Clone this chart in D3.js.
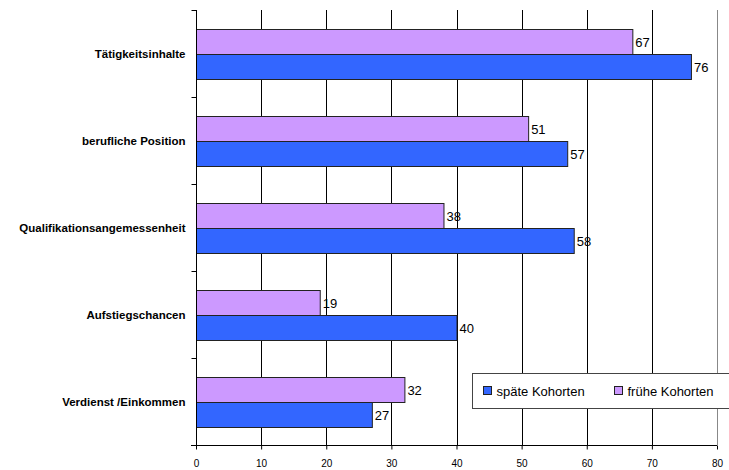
<!DOCTYPE html>
<html>
<head>
<meta charset="utf-8">
<title>Zufriedenheit - Kohorten</title>
<style>
  body { margin: 0; background: #fff; }
  text { font-family: Arial, "Liberation Sans", sans-serif; }
</style>
</head>
<body>
<script src="https://cdn.jsdelivr.net/npm/d3@7/dist/d3.min.js"></script>
<script>
    var w = 729, h = 470;
    var categories = ['Tätigkeitsinhalte', 'berufliche Position', 'Qualifikationsangemessenheit', 'Aufstiegschancen', 'Verdienst /Einkommen'];
    var frueh = [67, 51, 38, 19, 32];   // frühe Kohorten
    var spaet = [76, 57, 58, 40, 27];   // späte Kohorten
    var seriesNames = ['späte Kohorten', 'frühe Kohorten'];
    var xTicks = [0, 10, 20, 30, 40, 50, 60, 70, 80];

    var colors = { frueh: '#CC99FF', spaet: '#3366FF' };
    // plot area (note: "top" is reserved on window, so use other names)
    var pLeft = 196, pRight = 717, pTop = 10, pBottom = 445;

    var svg = d3.select('body').append('svg')
        .attr('width', w)
        .attr('height', h);

    var x = d3.scaleLinear().domain([0, 80]).range([pLeft, pRight]);
    var y = d3.scaleBand().domain(categories).range([pTop, pBottom]);
    var inner = d3.scaleBand().domain(['frueh', 'spaet'])
        .range([19, y.bandwidth() - 18]);

    // gridlines
    svg.append('g').selectAll('line')
        .data(xTicks.slice(1))
        .enter().append('line')
        .attr('x1', function(d){ return Math.round(x(d)) + 0.5; })
        .attr('x2', function(d){ return Math.round(x(d)) + 0.5; })
        .attr('y1', pTop)
        .attr('y2', pBottom)
        .attr('stroke', function(d){ return d === 80 ? '#888' : '#000'; })
        .attr('stroke-width', 1);

    var rows = [];
    categories.forEach(function(c, i){
        rows.push({cat: c, key: 'frueh', v: frueh[i]});
        rows.push({cat: c, key: 'spaet', v: spaet[i]});
    });

    svg.append('g').selectAll('rect')
        .data(rows)
        .enter().append('rect')
        .attr('x', x(0) + 0.5)
        .attr('y', function(d){ return Math.round(y(d.cat) + inner(d.key)) + 0.5; })
        .attr('width', function(d){ return x(d.v) - x(0); })
        .attr('height', Math.round(inner.bandwidth()))
        .attr('fill', function(d){ return colors[d.key]; })
        .attr('stroke', '#222')
        .attr('stroke-width', 1);

    svg.append('g').selectAll('text')
        .data(rows)
        .enter().append('text')
        .attr('x', function(d){ return x(d.v) + 3; })
        .attr('y', function(d){ return y(d.cat) + inner(d.key) + inner.bandwidth() / 2 + 5; })
        .attr('font-size', 13)
        .attr('fill', '#000')
        .text(function(d){ return d.v; });

    // left axis: ticks at band boundaries
    var yAxis = svg.append('g').attr('transform', 'translate(' + (pLeft + 0.5) + ',0)');
    yAxis.append('line').attr('y1', pTop).attr('y2', pBottom + 4).attr('stroke', '#000');
    var bounds = categories.map(function(c){ return y(c); }).concat([pBottom]);
    yAxis.selectAll('.tk').data(bounds).enter().append('line')
        .attr('x1', -5).attr('x2', 0)
        .attr('y1', function(d){ return Math.round(d) + 0.5; })
        .attr('y2', function(d){ return Math.round(d) + 0.5; })
        .attr('stroke', '#000');
    yAxis.selectAll('.lbl').data(categories).enter().append('text')
        .attr('x', -11)
        .attr('y', function(d){ return y(d) + y.bandwidth() / 2 + 4; })
        .attr('text-anchor', 'end')
        .attr('font-size', 11.5)
        .attr('font-weight', 'bold')
        .text(function(d){ return d; });

    // bottom axis
    var xAxis = d3.axisBottom(x).tickValues(xTicks).tickSize(4).tickPadding(10);
    var gx = svg.append('g').attr('transform', 'translate(0,' + (pBottom + 0.5) + ')').call(xAxis);
    gx.select('.domain').attr('d', 'M' + (pLeft - 5) + ',0H' + pRight).attr('stroke', '#000');
    gx.selectAll('.tick line').attr('stroke', '#000');
    gx.selectAll('text').attr('font-size', 10).attr('font-family', 'Arial, "Liberation Sans", sans-serif').attr('fill', '#000');

    // legend
    var lg = svg.append('g').attr('transform', 'translate(472.5,373.5)');
    lg.append('rect').attr('width', 262).attr('height', 35)
        .attr('fill', '#fff').attr('stroke', '#444');
    var legendKeys = ['spaet', 'frueh'];
    var lx = [11, 142];
    legendKeys.forEach(function(k, i){
        lg.append('rect').attr('x', lx[i]).attr('y', 13).attr('width', 8).attr('height', 8)
            .attr('fill', colors[k]).attr('stroke', '#222');
        lg.append('text').attr('x', lx[i] + 13).attr('y', 22)
            .attr('font-size', 13).text(seriesNames[i]);
    });
</script>
</body>
</html>
